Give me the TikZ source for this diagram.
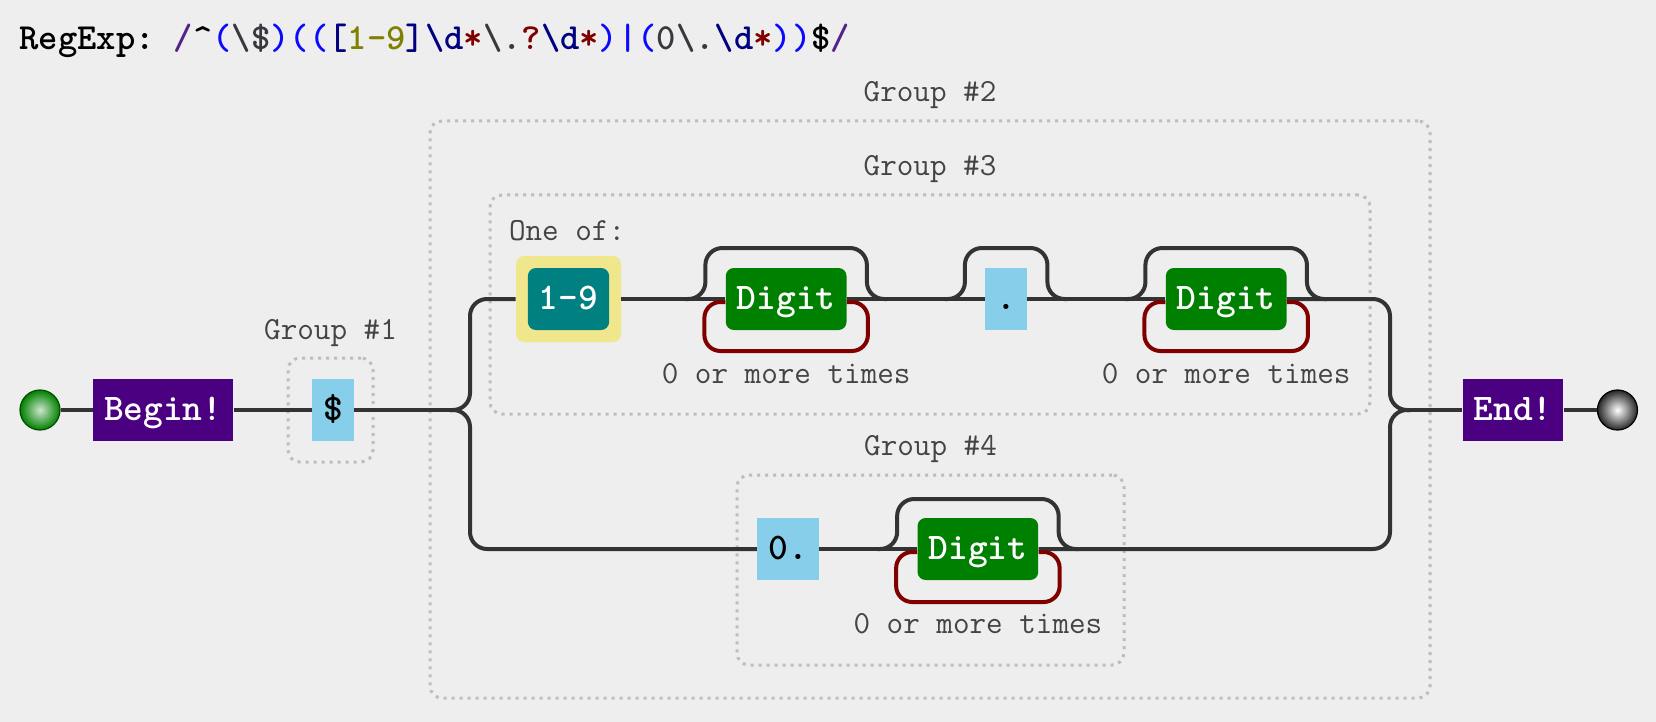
\documentclass[tikz,border=0pt]{standalone}
\usepackage{fontspec}
\usepackage{tikz}
\usetikzlibrary{fit}
\usetikzlibrary{positioning}
\definecolor{bggray}{HTML}{EEEEEE}
\definecolor{railgray}{HTML}{333333}
\definecolor{labelgray}{HTML}{444444}
\definecolor{grpgray}{HTML}{BDBDBD}
\definecolor{anchorpurple}{HTML}{4B0082}
\definecolor{litblue}{HTML}{87CEEB}
\definecolor{rangeteal}{HTML}{008080}
\definecolor{setkhaki}{HTML}{F0E68C}
\definecolor{digitgreen}{HTML}{008000}
\definecolor{loopred}{HTML}{800000}
\definecolor{rxpurple}{HTML}{55228A}
\definecolor{rxblue}{HTML}{0A0AFF}
\definecolor{rxnavy}{HTML}{000080}
\definecolor{rxolive}{HTML}{808000}
\definecolor{rxmaroon}{HTML}{800000}
\definecolor{rxgray}{HTML}{38383F}

\begin{document}
\begin{tikzpicture}[x=0.5pt, y=-0.5pt,
                    rail/.style={draw=railgray, line width=2pt},
                    bypass/.style={rail, rounded corners=8.5pt},
                    loopback/.style={draw=loopred, line width=2pt, rounded corners=8pt},
                    grp/.style={draw=grpgray, line width=1.5pt, dash pattern=on 1.5pt off 2.5pt,
                                rounded corners=6pt, inner sep=0pt},
                    grplabel/.style={anchor=base, inner sep=0pt, text=labelgray,
                                     font=\ttfamily\fontsize{16.1}{18}\selectfont},
                    tok/.style={rectangle, minimum height=31pt, inner xsep=5.5pt, inner ysep=0pt,
                                text height=12pt, text depth=2pt,
                                font=\ttfamily\bfseries\fontsize{18.8}{20}\selectfont},
                    anchorbox/.style={tok, fill=anchorpurple, text=white},
                    litbox/.style={tok, fill=litblue, text=black},
                    digitbox/.style={tok, fill=digitgreen, text=white, rounded corners=4pt},
                    rangebox/.style={tok, fill=rangeteal, text=white, rounded corners=4pt},
                    setbox/.style={rectangle, fill=setkhaki, rounded corners=4pt,
                                   minimum width=52.5pt, minimum height=43pt},
                    terminal/.style={circle, minimum size=20pt, inner sep=0pt, line width=0.6pt}
                    ]
  \useasboundingbox[fill=bggray] (0,0) rectangle (1656,722);

  % title
  \node[anchor=base west, inner sep=0pt, font=\ttfamily\bfseries\fontsize{18.4}{20}\selectfont\frenchspacing]
    (title) at (19,50) {RegExp: \textcolor{rxpurple}{/}\textasciicircum\textcolor{rxblue}{(}\textcolor{rxgray}{\textbackslash\$}\textcolor{rxblue}{)((}\textcolor{rxnavy}{[}\textcolor{rxolive}{1-9}\textcolor{rxnavy}{]\textbackslash d}\textcolor{rxmaroon}{*}\textcolor{rxgray}{\textbackslash.}\textcolor{rxmaroon}{?}\textcolor{rxnavy}{\textbackslash d}\textcolor{rxmaroon}{*}\textcolor{rxblue}{)|(}\textcolor{rxgray}{0\textbackslash.}\textcolor{rxnavy}{\textbackslash d}\textcolor{rxmaroon}{*}\textcolor{rxblue}{))}\$\textcolor{rxpurple}{/}};

  % groups
  \node[grp, fit={(288,358) (373,462)}] (g1) {};
  \node[grp, fit={(430,121) (1430,698)}] (g2) {};
  \node[grp, fit={(490,195) (1370,414)}] (g3) {};
  \node[grp, fit={(737,475) (1124,665)}] (g4) {};
  \node[grplabel] (g1lbl) at ([yshift=8.5pt]g1.north) {Group \#1};
  \node[grplabel] (g2lbl) at ([yshift=9pt]g2.north) {Group \#2};
  \node[grplabel] (g3lbl) at ([yshift=9pt]g3.north) {Group \#3};
  \node[grplabel] (g4lbl) at ([yshift=9pt]g4.north) {Group \#4};

  % tokens
  \node[terminal, draw=digitgreen!60!black, inner color=white!80!digitgreen, outer color=digitgreen] (start) at (40,410) {};
  \node[anchorbox] (begin) [right=16pt of start] {Begin!};
  \node[litbox] (dollar) [right=39pt of begin] {\$};
  \node[setbox] (oneof) at (568.5,299) {};
  \node[rangebox] (range) at (oneof) {1-9};
  \node[grplabel, anchor=base west] (oneoflbl) at ([xshift=-3.5pt, yshift=7.5pt]oneof.north west) {One of:};
  \node[digitbox] (dig1) [right=52pt of oneof] {Digit};
  \node[litbox] (dot) [right=69pt of dig1] {.};
  \node[digitbox] (dig2) [right=69pt of dot] {Digit};
  \node[litbox] (zerodot) at (788,549) {0.};
  \node[digitbox] (dig3) [right=49pt of zerodot] {Digit};
  \node[anchorbox] (end) at (1513,410) {End!};
  \node[terminal, draw=black, inner color=white, outer color=black!85] (stop) [right=16.5pt of end] {};
  \node[grplabel] (rep1) at ([yshift=-42pt]dig1.center) {0 or more times};
  \node[grplabel] (rep2) at ([yshift=-42pt]dig2.center) {0 or more times};
  \node[grplabel] (rep3) at ([yshift=-42pt]dig3.center) {0 or more times};

  \coordinate (fork) at (450,410);
  \coordinate (join) at (1410,410);

  % main rail
  \draw[rail] (start) -- (begin);
  \draw[rail] (begin) -- (dollar);
  \draw[rail] (dollar) -- (fork);
  \draw[bypass] (fork) -- ++(20,0) |- (oneof.west);
  \draw[bypass] (fork) -- ++(20,0) |- (zerodot.west);
  \draw[rail] (oneof) -- (dig1);
  \draw[rail] (dig1) -- (dot);
  \draw[rail] (dot) -- (dig2);
  \draw[rail] (zerodot) -- (dig3);
  \draw[bypass] (dig2.east) -| ([xshift=-10pt]join) -- (join);
  \draw[bypass] (dig3.east) -| ([xshift=-10pt]join) -- (join);
  \draw[rail] (join) -- (end);
  \draw[rail] (end) -- (stop);

  % skips over optional parts
  \draw[bypass] ([xshift=-20pt]dig1.west) -- ++(20,0) |- ([xshift=10pt, yshift=25.5pt]dig1.east) |- ([xshift=20pt]dig1.east);
  \draw[bypass] ([xshift=-20pt]dot.west) -- ++(20,0) |- ([xshift=10pt, yshift=25.5pt]dot.east) |- ([xshift=20pt]dot.east);
  \draw[bypass] ([xshift=-20pt]dig2.west) -- ++(20,0) |- ([xshift=10pt, yshift=25.5pt]dig2.east) |- ([xshift=20pt]dig2.east);
  \draw[bypass] ([xshift=-20pt]dig3.west) -- ++(20,0) |- ([xshift=10pt, yshift=25pt]dig3.east) |- ([xshift=20pt]dig3.east);

  % repeat loops
  \draw[loopback] ([yshift=-1.5pt]dig1.east) -- ++(21,0) |- ([xshift=-10.5pt, yshift=-26pt]dig1.west) |- ([yshift=-1.5pt]dig1.west);
  \draw[loopback] ([yshift=-1.5pt]dig2.east) -- ++(21,0) |- ([xshift=-10.5pt, yshift=-26pt]dig2.west) |- ([yshift=-1.5pt]dig2.west);
  \draw[loopback] ([yshift=-1.5pt]dig3.east) -- ++(21,0) |- ([xshift=-10.5pt, yshift=-26.5pt]dig3.west) |- ([yshift=-1.5pt]dig3.west);
\end{tikzpicture}
\end{document}
